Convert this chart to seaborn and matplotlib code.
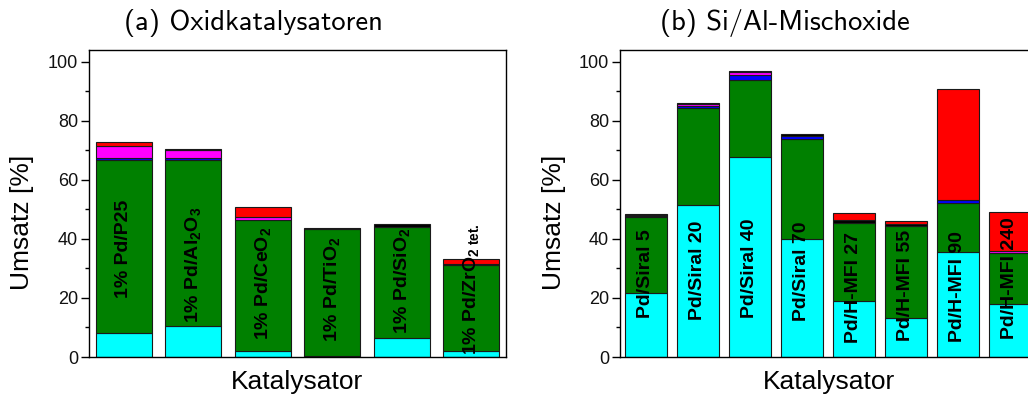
import numpy as np
import pandas as pd
import matplotlib
matplotlib.use("Agg")
import matplotlib.pyplot as plt
from matplotlib.ticker import MultipleLocator
import seaborn as sns

# ---------------- data ----------------
cats_a = ["P25", "Al2O3", "CeO2", "TiO2", "SiO2", "ZrO2tet"]
labels_a = [r"1% Pd/P25", r"1% Pd/Al$_\mathbf{2}$O$_\mathbf{3}$", r"1% Pd/CeO$_\mathbf{2}$",
            r"1% Pd/TiO$_\mathbf{2}$", r"1% Pd/SiO$_\mathbf{2}$", r"1% Pd/ZrO$_{\mathbf{2\ tet.}}$"]
cyan_a = [8.0, 10.6, 2.0, 0.5, 6.3, 2.1]
green_a = [58.6, 56.3, 44.3, 42.9, 37.9, 29.0]
blue_a = [0.7, 0.5, 0.0, 0.0, 0.0, 0.0]
magenta_a = [4.1, 2.8, 1.2, 0.0, 0.0, 0.0]
black_a = [0.0, 0.1, 0.0, 0.3, 0.8, 0.5]
red_a = [1.3, 0.0, 3.2, 0.0, 0.0, 1.5]

cats_b = ["Siral 5", "Siral 20", "Siral 40", "Siral 70", "MFI 27", "MFI 55", "MFI 90", "MFI 240"]
labels_b = ["Pd/Siral 5", "Pd/Siral 20", "Pd/Siral 40", "Pd/Siral 70",
            "Pd/H-MFI 27", "Pd/H-MFI 55", "Pd/H-MFI 90", "Pd/H-MFI 240"]
cyan_b = [21.8, 51.5, 67.6, 40.1, 19.1, 13.1, 35.5, 17.9]
green_b = [25.7, 33.0, 26.1, 33.7, 26.4, 31.3, 16.6, 17.5]
blue_b = [0.3, 0.6, 1.7, 0.9, 0.0, 0.0, 1.1, 0.0]
magenta_b = [0.4, 0.6, 1.2, 0.0, 0.0, 0.0, 0.0, 0.6]
black_b = [0.2, 0.2, 0.4, 0.7, 0.9, 0.7, 0.0, 0.0]
red_b = [0.0, 0.0, 0.0, 0.0, 2.3, 0.9, 37.5, 13.0]

# layout only: vertical centre of the in-bar labels
label_y_a = [36.6, 31.2, 25.0, 23.0, 26.0, 23.0]
label_y_b = [28.3, 29.5, 30.0, 29.0, 23.5, 24.4, 24.0, 26.7]

colors = ["#00FFFF", "#008000", "#0000FF", "#FF00FF", "#000000", "#FF0000"]

# ---------------- style ----------------
sns.set_style("ticks")
plt.rcParams["font.family"] = ["Liberation Sans", "DejaVu Sans"]
plt.rcParams["mathtext.fontset"] = "custom"
plt.rcParams["mathtext.rm"] = "Liberation Sans"
plt.rcParams["mathtext.bf"] = "Liberation Sans:bold"
plt.rcParams["mathtext.it"] = "Liberation Sans:italic"
plt.rcParams["text.color"] = "black"
plt.rcParams["axes.labelcolor"] = "black"
plt.rcParams["xtick.color"] = "black"
plt.rcParams["ytick.color"] = "black"

fig = plt.figure(figsize=(10.28, 3.96), dpi=100)
W, H = 1028, 396
ax_a = fig.add_axes([89 / W, 1 - 357 / H, 417 / W, 307 / H])
ax_b = fig.add_axes([620 / W, 1 - 357 / H, 416 / W, 307 / H])


def draw(ax, cats, series, labels, label_y):
    bottom = np.zeros(len(cats))
    for vals, col in zip(series, colors):
        vals = np.asarray(vals, dtype=float)
        df = pd.DataFrame({"cat": cats, "val": vals})
        sns.barplot(data=df, x="cat", y="val", bottom=bottom, color=col, saturation=1,
                    width=0.8, edgecolor="#1a1a1a", linewidth=0.8, errorbar=None, ax=ax)
        bottom = bottom + vals
    for p in ax.patches:
        if abs(p.get_height()) < 1e-9:
            p.set_linewidth(0)
    for i, (lab, yy) in enumerate(zip(labels, label_y)):
        ax.text(i, yy, lab, rotation=90, ha="center", va="center", fontsize=14,
                fontweight="bold", color="black")
    ax.set_xlim(-0.5, len(cats) - 0.5)
    ax.set_ylim(0, 104)
    ax.yaxis.set_major_locator(MultipleLocator(20))
    ax.yaxis.set_minor_locator(MultipleLocator(10))
    ax.tick_params(axis="y", which="major", direction="out", length=6, width=1,
                   labelsize=13, pad=2, right=False, labelcolor="#111111")
    ax.tick_params(axis="y", which="minor", direction="out", length=3, width=1, right=False)
    ax.set_xticks(range(len(cats)))
    ax.set_xticklabels([])
    ax.tick_params(axis="x", which="major", direction="in", length=2, width=0.6,
                   color="#bbbbbb", top=False)
    ax.set_xlabel("")
    ax.set_ylabel("")
    for s in ax.spines.values():
        s.set_visible(True)
        s.set_linewidth(1.0)
        s.set_color("black")


draw(ax_a, cats_a, [cyan_a, green_a, blue_a, magenta_a, black_a, red_a], labels_a, label_y_a)
draw(ax_b, cats_b, [cyan_b, green_b, blue_b, magenta_b, black_b, red_b], labels_b, label_y_b)

# titles
fig.text(253 / W, 1 - 23 / H, "(a) Oxidkatalysatoren", fontfamily="cmss10", fontsize=20.5,
         ha="center", va="center")
fig.text(785 / W, 1 - 23 / H, "(b) Si/Al-Mischoxide", fontfamily="cmss10", fontsize=20.5,
         ha="center", va="center")

# axis labels
for xl, xk in [(22, 297), (554, 829)]:
    fig.text(xl / W, 1 - 222 / H, "Umsatz [%]", rotation=90, fontsize=19, ha="center", va="center")
    fig.text(xk / W, 1 - 382 / H, "Katalysator", fontsize=19, ha="center", va="center")

fig.savefig("out.png", dpi=100)
